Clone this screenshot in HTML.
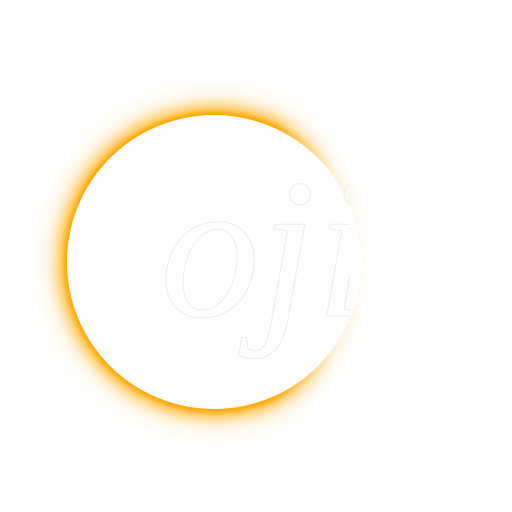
<!DOCTYPE html>
<html><head><style>
html,body{margin:0;padding:0;background:#fff;width:512px;height:512px;overflow:hidden}
#c{position:absolute;left:67px;top:115px;width:294px;height:294px;border-radius:50%;background:#fff;
box-shadow:0 0 4px 3px #ffa800,0 0 14px 8px rgba(255,170,0,.8),0 0 30px 12px rgba(255,190,60,.35)}
#fade{position:absolute;left:275px;top:100px;width:150px;height:330px;
background:linear-gradient(90deg,rgba(255,255,255,0) 0%,rgba(255,255,255,.85) 40%,#fff 65%)}
#clip{position:absolute;left:150px;top:140px;width:200px;height:260px;overflow:hidden}
#t{position:absolute;left:10px;top:10px;font-family:"Liberation Serif",serif;font-style:italic;font-size:200px;
color:transparent;-webkit-text-stroke:1px #ececec;line-height:1}
</style></head><body>
<div id="c"></div>
<div id="fade"></div>
<div id="clip"><div id="t">oji</div></div>
</body></html>
